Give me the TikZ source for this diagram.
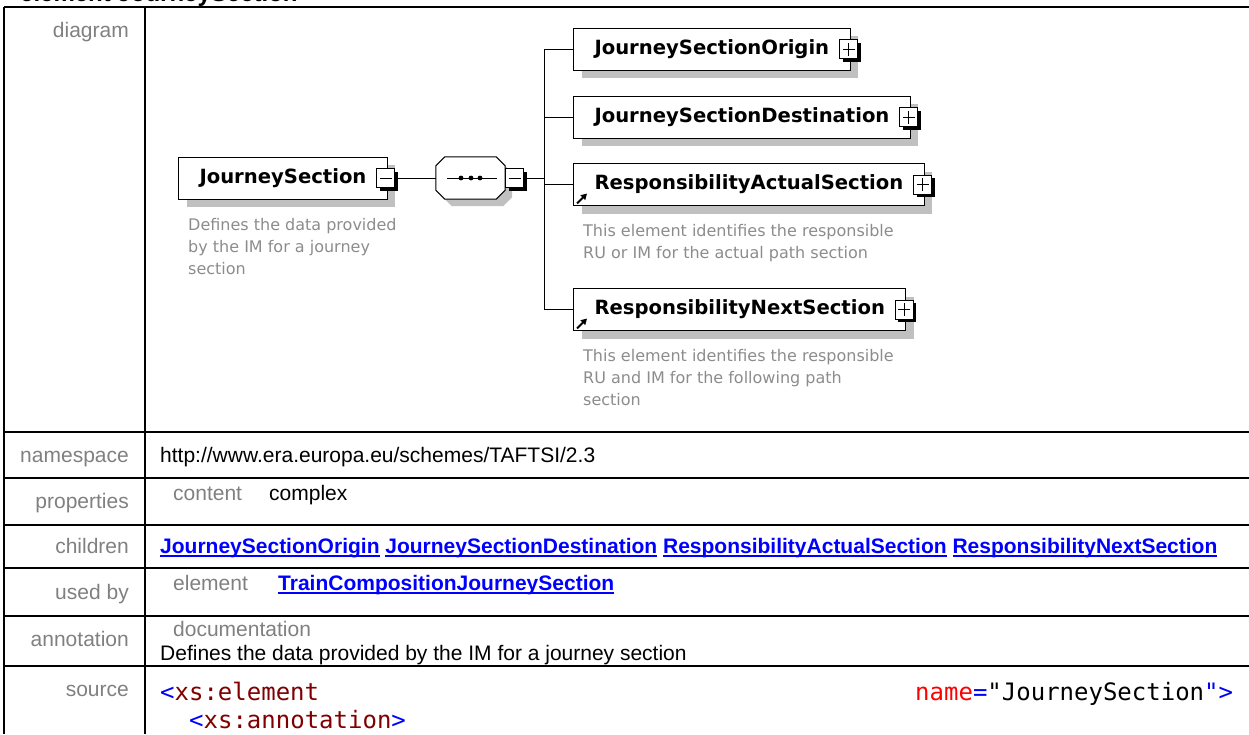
\documentclass[tikz,border=0pt]{standalone}
\usepackage{fontspec}
\setmainfont{Liberation Sans}
\setmonofont{DejaVu Sans Mono}
\newfontfamily\diafont{DejaVu Sans}
\usetikzlibrary{positioning,shadows,arrows.meta}

\definecolor{lblgray}{RGB}{128,128,128}
\definecolor{anngray}{RGB}{140,140,140}
\definecolor{shadowgray}{RGB}{192,192,192}
\definecolor{linkblue}{RGB}{0,0,255}
\definecolor{tagblue}{RGB}{0,0,255}
\definecolor{tagred}{RGB}{128,0,0}
\definecolor{attred}{RGB}{255,0,0}

\newcommand\lnk[1]{\textcolor{linkblue}{\bfseries\setbox0\hbox{#1}%
  \rlap{\rule[-4pt]{\wd0}{1.6pt}}\box0}}

\tikzset{
  tblline/.style={line width=1.5pt},
  lbl/.style={anchor=base east, inner sep=0pt, text=lblgray, font=\fontsize{21}{24}\selectfont},
  cell/.style={anchor=base west, inner sep=0pt, font=\fontsize{21}{24}\selectfont},
  subl/.style={cell, text=lblgray},
  code/.style={anchor=base west, inner sep=0pt, font=\ttfamily\fontsize{24}{28}\selectfont},
  elbox/.style={draw, line width=1pt, fill=white, anchor=west, minimum height=42pt,
    inner xsep=21pt, inner ysep=0pt, font=\diafont\bfseries\fontsize{19.6}{23}\selectfont,
    general shadow={fill=shadowgray, shadow xshift=8pt, shadow yshift=-8pt}},
  expbox/.style={draw, line width=1pt, fill=white, minimum width=18pt, minimum height=19pt,
    inner sep=0pt, general shadow={fill=black, shadow xshift=3pt, shadow yshift=-3pt}},
  minusexp/.style={expbox, path picture={
    \draw[black, line width=1pt] ([xshift=3pt]path picture bounding box.west)
      -- ([xshift=-3pt]path picture bounding box.east);}},
  plusexp/.style={expbox, path picture={
    \draw[black, line width=1pt] ([xshift=3pt]path picture bounding box.west)
      -- ([xshift=-3pt]path picture bounding box.east)
      ([yshift=3pt]path picture bounding box.south)
      -- ([yshift=-3pt]path picture bounding box.north);}},
  seqbox/.style={minimum width=69pt, minimum height=42pt, inner sep=0pt},
  conn/.style={line width=1pt},
  refarr/.style={line width=2pt, -{Triangle[length=6pt,width=6.5pt]}},
  ann/.style={inner sep=0pt, align=left, text=anngray, font=\diafont\fontsize{16}{22}\selectfont}
}

\begin{document}
\begin{tikzpicture}[x=1pt,y=-1pt]
  \useasboundingbox (0,0) rectangle (1249,734);

  % title, cut off by the page edge
  \node[anchor=base west, inner sep=0pt, font=\bfseries\fontsize{24}{28}\selectfont] (title)
    at (20,1) {element JourneySection};

  % table grid
  \draw[tblline] (4,7) -- (1249,7);
  \draw[tblline] (4,7) -- (4,734);
  \draw[tblline] (145,7) -- (145,734);
  \foreach \y in {432,478,525,568,616,666}
    \draw[tblline] (4,\y) -- (1249,\y);

  % row labels
  \node[lbl] (l-diagram) at (129,37) {diagram};
  \node[lbl] (l-ns) at (129,462) {namespace};
  \node[lbl] (l-prop) at (129,508) {properties};
  \node[lbl] (l-child) at (129,553) {children};
  \node[lbl] (l-used) at (129,599) {used by};
  \node[lbl] (l-ann) at (129,646) {annotation};
  \node[lbl] (l-src) at (129,696) {source};

  % row contents
  \node[cell] (ns) at (160,462) {http://www.era.europa.eu/schemes/TAFTSI/2.3};
  \node[subl] (p-key) at (173,500) {content};
  \node[cell] (p-val) at (269,500) {complex};
  \node[cell] (child) at (160,553) {\lnk{JourneySectionOrigin}
    \lnk{JourneySectionDestination} \lnk{ResponsibilityActualSection}
    \lnk{ResponsibilityNextSection}};
  \node[subl] (u-key) at (173,590) {element};
  \node[cell] (u-val) at (278,590) {\lnk{TrainCompositionJourneySection}};
  \node[subl] (a-key) at (173,636) {documentation};
  \node[cell] (a-val) at (160,660) {Defines the data provided by the IM for a journey section};
  \node[code] (src1) at (160,700) {\textcolor{tagblue}{<}\textcolor{tagred}{xs:element}};
  \node[code] (src1b) at (915,700) {\textcolor{attred}{name}\textcolor{tagblue}{=}"JourneySection\textcolor{tagblue}{">}};
  \node[code] (src2) at (189,728) {\textcolor{tagblue}{<}\textcolor{tagred}{xs:annotation}\textcolor{tagblue}{>}};

  % diagram
  \node[elbox] (js) at (178,178) {JourneySection};
  \node[minusexp, xshift=-2pt] (js-exp) at (js.east) {};
  \node[ann, below right=19pt and 10pt of js.south west] (js-ann)
    {Defines the data provided\\by the IM for a journey\\section};

  % sequence compositor
  \node[seqbox] (seq) at (470.5,178) {};
  \fill[shadowgray] ([shift={(16pt,-7pt)}]seq.north west) -- ([shift={(-2pt,-7pt)}]seq.north east)
    -- ([shift={(7pt,-16pt)}]seq.north east) -- ([shift={(7pt,2pt)}]seq.south east)
    -- ([shift={(-2pt,-7pt)}]seq.south east) -- ([shift={(16pt,-7pt)}]seq.south west)
    -- ([shift={(7pt,2pt)}]seq.south west) -- ([shift={(7pt,-16pt)}]seq.north west) -- cycle;
  \draw[conn, fill=white] ([xshift=9pt]seq.north west) -- ([xshift=-9pt]seq.north east)
    -- ([yshift=-9pt]seq.north east) -- ([yshift=9pt]seq.south east)
    -- ([xshift=-9pt]seq.south east) -- ([xshift=9pt]seq.south west)
    -- ([yshift=9pt]seq.south west) -- ([yshift=-9pt]seq.north west) -- cycle;
  \draw[conn] ([xshift=-23.5pt]seq.center) -- ([xshift=26.5pt]seq.center);
  \foreach \dx in {-9.5,0.5,9.5}
    \fill ([xshift=\dx pt]seq.center) circle (2.4pt);
  \node[minusexp, right=0pt of seq] (seq-exp) {};
  \coordinate (trunk) at (544,178);

  \node[elbox] (jso) at (573,49) {JourneySectionOrigin};
  \node[elbox] (jsd) at (573,117) {JourneySectionDestination};
  \node[elbox] (ras) at (573,184.5) {ResponsibilityActualSection};
  \node[elbox] (rns) at (573,309.5) {ResponsibilityNextSection};
  \foreach \c in {jso,jsd,ras,rns}
    \node[plusexp, xshift=-2pt] (\c-exp) at (\c.east) {};

  \draw[refarr] ([xshift=4pt,yshift=2.5pt]ras.south west) -- ++(10pt,10pt);
  \draw[refarr] ([xshift=4pt,yshift=2.5pt]rns.south west) -- ++(10pt,10pt);

  \node[ann, below right=18pt and 10pt of ras.south west] (ras-ann)
    {This element identifies the responsible\\RU or IM for the actual path section};
  \node[ann, below right=18pt and 10pt of rns.south west] (rns-ann)
    {This element identifies the responsible\\RU and IM for the following path\\section};

  % connectors
  \draw[conn] (js-exp.east) -- (seq.west);
  \draw[conn] (seq-exp.east) -- (trunk);
  \draw[conn] (trunk |- jso.west) -- (trunk |- rns.west);
  \foreach \c in {jso,jsd,ras,rns}
    \draw[conn] (trunk |- \c.west) -- (\c.west);
\end{tikzpicture}
\end{document}
